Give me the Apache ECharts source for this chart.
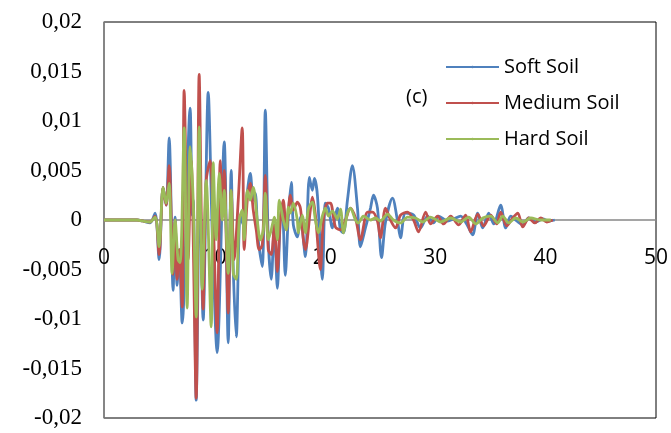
<!DOCTYPE html>
<html>
<head>
<meta charset="utf-8">
<script src="https://cdn.jsdelivr.net/npm/echarts@6/dist/echarts.min.js"></script>
<style>
  html, body { margin: 0; padding: 0; background: #fff; }
  #chart { width: 671px; height: 433px; }
</style>
</head>
<body>
<div id="chart"></div>
<script>
// series names
const seriesNames = ['Soft Soil', 'Medium Soil', 'Hard Soil']

// [time (s), value]
const softSoil = [
  [0, 0], [3.0, 0], [3.5, -0.0001], [4.17, -0.0003], [4.63, 0.0007], [4.99, -0.004], [5.35, 0.0033], [5.63, 0.0015],
  [5.90, 0.0083], [6.26, -0.0071], [6.44, 0.0003], [6.62, -0.0066], [6.81, -0.003], [7.08, -0.0104], [7.80, 0.0113],
  [7.99, 0.0005], [8.08, 0.002], [8.35, -0.0182], [8.67, 0.004], [8.98, -0.0101], [9.44, 0.0129], [9.80, -0.001],
  [10.25, -0.0134], [10.89, 0.0079], [11.25, -0.0124], [11.52, 0.005], [11.71, -0.005], [11.98, -0.0118], [12.34, 0.0005],
  [12.61, -0.0005], [12.89, 0.002], [13.25, 0.0047], [13.52, 0.002], [13.70, 0.0027], [13.97, -0.002], [14.34, -0.0047],
  [14.61, 0.0111], [14.88, -0.002], [15.15, -0.006], [15.43, -0.0005], [15.70, -0.0069], [15.97, 0], [16.15, 0.0013],
  [16.42, -0.0056], [16.70, 0.0005], [16.97, 0.0038], [17.15, -0.0005], [17.51, -0.0017], [17.79, 0.0003], [18.24, -0.0037],
  [18.60, 0.0043], [18.87, 0.003], [19.06, 0.0042], [19.33, 0.0025], [19.78, -0.006], [20.05, 0.0017], [20.33, 0.0012],
  [20.69, -0.0008], [21.14, 0.0012], [21.42, -0.001], [21.69, -0.0013], [22.05, 0.002], [22.50, 0.0055], [22.96, 0.0012],
  [23.23, -0.0027], [23.68, -0.0008], [24.14, 0.0012], [24.41, 0.0025], [24.77, 0.0012], [25.14, -0.0038], [25.50, -0.0002],
  [26.13, 0.0022], [26.59, -0.0001], [26.86, -0.0018], [27.31, 0.0007], [28.04, 0.0005], [28.67, -0.0008], [29.31, 0.0004],
  [29.85, -0.0003], [30.31, 0.0004], [31.12, -0.0001], [31.67, 0.0001], [32.30, 0.0004], [32.85, -0.0004], [33.39, -0.0015],
  [33.85, 0.0007], [34.30, -0.0008], [34.85, 0.0007], [35.30, -0.0004], [35.93, 0.0015], [36.39, -0.0008], [36.84, 0.0004],
  [37.39, -0.0001], [37.93, -0.0005], [38.48, 0.0002], [39.11, -0.0002], [39.75, 0.0001], [40.29, -0.0001], [40.83, 0]
]

const mediumSoil = [
  [0, 0], [3.0, 0], [3.5, -0.0001], [4.17, -0.0002], [4.63, 0.0004], [4.99, -0.0035], [5.35, 0.0033], [5.63, 0.0015],
  [5.90, 0.0055], [6.26, -0.0055], [6.44, 0], [6.62, -0.006], [6.81, -0.003], [7.08, -0.0088], [7.26, 0.0131],
  [7.62, -0.004], [7.89, 0.006], [8.35, -0.018], [8.62, 0.0147], [8.98, -0.009], [9.26, 0.004], [9.62, 0.006], [9.89, 0],
  [10.25, -0.0114], [10.53, 0.006], [10.71, 0.001], [10.89, 0.005], [11.25, -0.0094], [11.52, 0.003], [11.80, -0.004],
  [12.16, 0.002], [12.52, 0.0093], [12.70, -0.003], [12.98, 0.002], [13.25, 0.0037], [13.52, 0.001], [13.79, -0.001],
  [14.06, -0.003], [14.34, -0.0025], [14.61, 0.0045], [14.88, -0.003], [15.15, -0.0035], [15.43, -0.0005], [15.70, -0.0052],
  [15.97, 0], [16.24, 0.002], [16.51, -0.001], [16.88, 0.0025], [17.15, 0.001], [17.51, 0.0018], [17.79, 0.0012],
  [18.06, -0.002], [18.24, -0.003], [18.69, 0.001], [18.87, 0.0023], [19.15, 0.0005], [19.60, -0.005], [19.87, 0],
  [20.23, 0.0017], [20.51, 0.0017], [20.96, -0.0007], [21.42, -0.001], [21.87, 0], [22.32, 0.0012], [22.78, 0.0002],
  [23.23, -0.002], [23.87, 0.0008], [24.32, 0.0008], [24.77, -0.0001], [25.04, -0.0018], [25.50, 0.0012], [25.95, 0],
  [26.41, -0.0008], [26.86, 0.0005], [27.49, 0.0008], [28.04, 0], [28.49, -0.0012], [29.13, 0.0008], [29.58, -0.0004],
  [30.22, 0.0004], [30.76, -0.0004], [31.40, 0.0004], [32.12, -0.0005], [32.76, 0.0005], [33.21, -0.0012], [33.85, 0.0006],
  [34.39, -0.0006], [35.03, 0.0005], [35.57, -0.0004], [35.93, 0.0008], [36.48, -0.0006], [37.02, 0.0002], [37.48, 0.0007],
  [37.93, -0.0007], [38.48, 0.0002], [39.02, -0.0003], [39.56, 0.0002], [40.11, -0.0002], [40.65, 0]
]

const hardSoil = [
  [0, 0], [3.0, 0], [3.5, -0.0001], [4.17, -0.0002], [4.63, 0.0003], [4.99, -0.0027], [5.35, 0.0033], [5.63, 0.0017],
  [5.90, 0.0037], [6.17, -0.0054], [6.44, 0], [6.71, -0.004], [6.90, -0.0043], [7.26, 0.0093], [7.53, -0.0089],
  [7.80, 0.0074], [8.08, 0.002], [8.35, -0.0098], [8.62, 0.0094], [8.89, -0.007], [9.26, 0.004], [9.71, -0.0108],
  [9.89, 0.0058], [10.16, -0.002], [10.44, 0.0047], [10.71, 0], [10.89, 0.003], [11.25, -0.0054], [11.52, 0.003],
  [11.71, -0.0054], [11.98, -0.006], [12.25, 0], [12.52, 0.001], [12.70, -0.002], [12.98, 0.003], [13.25, 0.002],
  [13.52, 0.0033], [13.88, 0], [14.16, -0.002], [14.43, -0.001], [14.61, 0.0027], [14.88, -0.002], [15.15, -0.001],
  [15.43, 0.0003], [15.70, -0.002], [15.88, 0.002], [16.24, 0], [16.51, -0.001], [16.70, 0.0013], [16.88, 0.0007],
  [17.15, 0.0017], [17.51, 0], [17.60, -0.0013], [17.97, 0.0005], [18.24, -0.0013], [18.51, 0.0011], [18.87, 0.0018],
  [19.15, 0], [19.42, -0.0013], [19.78, 0.0004], [20.05, 0.0012], [20.33, 0.0004], [20.69, 0.0009], [21.14, 0.0001],
  [21.42, 0.0011], [21.69, -0.0013], [22.05, 0.0007], [22.32, 0.0012], [22.78, 0], [23.05, -0.0003], [23.50, 0.0004],
  [24.14, 0], [24.59, 0.0002], [25.04, -0.0001], [25.68, 0.0006], [26.22, 0], [26.86, -0.0003], [27.49, 0.0003],
  [28.22, 0.0002], [28.86, -0.0002], [29.58, 0.0003], [30.49, -0.0002], [31.40, 0.0002], [32.30, -0.0002], [33.03, 0.0003],
  [33.67, -0.0004], [34.30, 0.0002], [35.03, 0.0004], [35.66, -0.0003], [36.12, 0.0004], [36.66, -0.0003], [37.29, 0.0002],
  [37.93, -0.0002], [38.66, 0.0002], [39.56, 0], [40.47, 0]
]

const colors = ['#4F81BD', '#C0504D', '#9BBB59']
const allData = [softSoil, mediumSoil, hardSoil]

const gridTop = 22
const gridBottom = 15
const plotHeight = 433 - gridTop - gridBottom

const chart = echarts.init(document.getElementById('chart'))
chart.setOption({
  animation: false,
  grid: {
    left: 104, right: 15, top: gridTop, bottom: gridBottom,
    outerBoundsMode: 'none', containLabel: false,
    show: true, borderColor: '#000', borderWidth: 1
  },
  legend: {
    data: seriesNames,
    orient: 'vertical',
    left: 440,
    top: 50,
    itemWidth: 53,
    itemHeight: 3,
    itemGap: 12,
    textStyle: { fontFamily: 'Open Sans', fontSize: 20, color: '#000', lineHeight: 24 }
  },
  graphic: [{
    type: 'text', left: 406, top: 87,
    style: { text: '(c)', font: '20px "Open Sans"', fill: '#000' }
  }],
  xAxis: {
    type: 'value', min: 0, max: 50, interval: 10,
    position: 'bottom',
    // axis sits at y = 0, which is the middle of the plot
    offset: -plotHeight / 2,
    z: 3,
    axisLine: { onZero: false, lineStyle: { color: '#888', width: 1.5 } },
    axisTick: { show: false },
    splitLine: { show: false },
    axisLabel: { color: '#000', fontFamily: 'Open Sans', fontSize: 21, margin: 28 }
  },
  yAxis: {
    type: 'value', min: -0.02, max: 0.02, interval: 0.005,
    axisLine: { show: true, onZero: false, lineStyle: { color: '#888', width: 1.5 } },
    axisTick: { show: false },
    splitLine: { show: false },
    axisLabel: {
      color: '#000', fontFamily: '"Liberation Serif", "Times New Roman", serif', fontSize: 23, margin: 22,
      formatter: v => String(+v.toFixed(3)).replace('.', ',')
    }
  },
  series: allData.map((d, i) => ({
    name: seriesNames[i],
    type: 'line',
    data: d,
    symbol: 'none',
    smooth: 0.3,
    lineStyle: { color: colors[i], width: 2.8 },
    itemStyle: { color: colors[i] }
  }))
})
</script>
</body>
</html>
